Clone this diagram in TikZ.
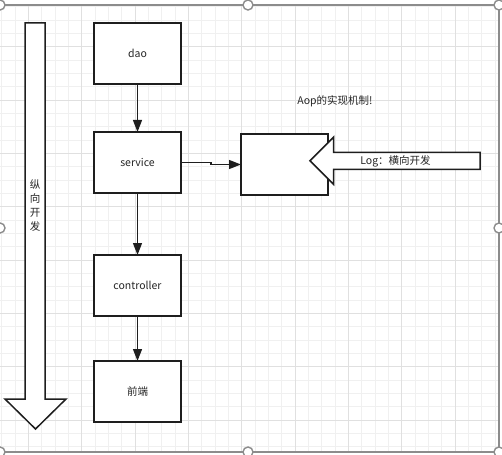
\documentclass[tikz,border=0pt]{standalone}
\usepackage{fontspec}
\setmainfont{Noto Sans CJK SC}
\usetikzlibrary{arrows.meta,positioning}
\definecolor{edgecolor}{HTML}{1E1E1E}
\definecolor{gridminor}{HTML}{F0F0F0}
\definecolor{gridmajor}{HTML}{E0E0E0}
\definecolor{framecolor}{HTML}{8C8C8C}

\begin{document}
\begin{tikzpicture}[x=1pt, y=-1pt,
        box/.style={draw=edgecolor, fill=white, line width=1.5pt,
                    font=\fontsize{10.5}{13}\selectfont, text=black!85,
                    minimum width=87pt, minimum height=61pt,
                    inner sep=0pt, outer sep=0pt},
        bigarrow/.style={draw=edgecolor, fill=white, line width=1.5pt},
        lbl/.style={font=\fontsize{10.5}{13}\selectfont, text=black!85, inner sep=0pt},
        arr/.style={-{Triangle[length=12pt,width=9pt]}, edgecolor, line width=1.3pt},
        handle/.style={draw=framecolor, fill=white, line width=1.4pt}
      ]
        \useasboundingbox (0,0) rectangle (502,454);
        % canvas grid
        \begin{scope}
          \clip (0,5) rectangle (499,452);
          \foreach \i in {0,...,37} {
            \draw[gridminor, line width=0.7pt] ({1.7+13.333*\i},5) -- ++(0,447);
            \draw[gridminor, line width=0.7pt] (0,{6.7+13.333*\i}) -- ++(499,0);
          }
          \foreach \i in {0,...,9} {
            \draw[gridmajor, line width=0.8pt] ({28.3+53.333*\i},5) -- ++(0,447);
            \draw[gridmajor, line width=0.8pt] (0,{46.7+53.333*\i}) -- ++(499,0);
          }
        \end{scope}
        \draw[framecolor, line width=1.2pt] (0,5) -- (499,5) -- (499,452) -- (0,452);

        % layers
        \node[box] (dao) at (137.5,53.5) {dao};
        \node[box] (svc) [below=48pt of dao] {service};
        \node[box] (ctrl) [below=62pt of svc] {controller};
        \node[box] (front) [below=45pt of ctrl] {前端};
        \draw[arr] (dao) -- (svc);
        \draw[arr] (svc) -- (ctrl);
        \draw[arr] (ctrl) -- (front);

        % vertical development
        \draw[bigarrow] (25,23) -- (45,23) -- (45,399) -- (66,399) -- (35.5,429)
          -- (5,399) -- (25,399) -- cycle;
        \node[lbl, align=center, font=\fontsize{10.5}{13.7}\selectfont] (vdev) at (35,205.5)
          {纵\\向\\开\\发};

        % aop
        \node[box] (aop) at (284.5,164.5) {};
        \draw[arr] (svc.east) -- ++(30,0) |- (aop.west);
        \draw[bigarrow] (480,152.3) -- (333.5,152.3) -- (333.5,137.3) -- (310,160.8)
          -- (333.5,184.3) -- (333.5,169.3) -- (480,169.3) -- cycle;
        \node[lbl] (hdev) at (395.5,161.5) {Log：横向开发};
        \node[lbl] (title) at (335,101) {Aop的实现机制!};

        % selection handles
        \foreach \hx/\hy in {0/5, 248/5, 499/5, 0/228, 499/228, 0/452, 248/452, 499/452}
          \draw[handle] (\hx,\hy) circle (5pt);
      \end{tikzpicture}
\end{document}
